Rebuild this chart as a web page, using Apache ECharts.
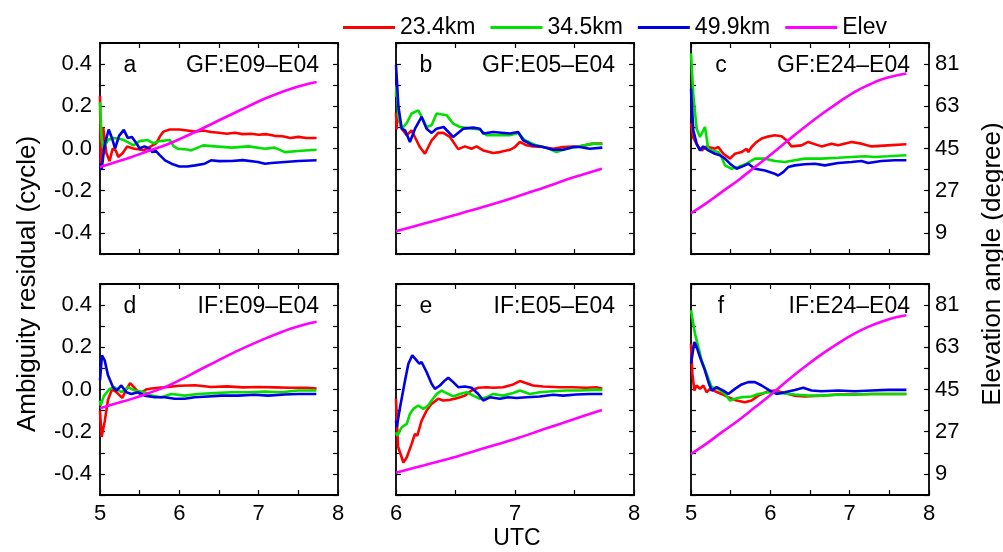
<!DOCTYPE html>
<html>
<head>
<meta charset="utf-8">
<script src="https://cdn.jsdelivr.net/npm/echarts@6/dist/echarts.min.js"></script>
<style>
html,body{margin:0;padding:0;background:#fff;}
#chart{width:1003px;height:552px;}
</style>
</head>
<body>
<div id="chart"></div>
<script>
// ---------------- DATA (time UTC h, residual cycle / elevation deg) ----------------
const seriesNames = ['23.4km', '34.5km', '49.9km', 'Elev'];
const panelLetters = ['a', 'b', 'c', 'd', 'e', 'f'];
const panelTitles = ['GF:E09\u2013E04', 'GF:E05\u2013E04', 'GF:E24\u2013E04', 'IF:E09\u2013E04', 'IF:E05\u2013E04', 'IF:E24\u2013E04'];
const xRanges = [[5, 8], [6, 8], [5, 8], [5, 8], [6, 8], [5, 8]];
const leftTicks = [-0.4, -0.2, 0, 0.2, 0.4];
const rightTicks = [9, 27, 45, 63, 81];

// panel a
const aRed = [[5.0,0.25],[5.01,-0.07],[5.04,0.10],[5.08,-0.02],[5.12,-0.06],[5.16,0.0],[5.2,-0.01],[5.23,-0.04],[5.29,-0.02],[5.34,0.009],[5.42,0.0],[5.5,-0.005],[5.55,-0.008],[5.62,0.005],[5.71,0.025],[5.76,0.06],[5.8,0.08],[5.88,0.09],[6.0,0.09],[6.1,0.085],[6.2,0.08],[6.3,0.085],[6.4,0.078],[6.5,0.075],[6.6,0.07],[6.7,0.075],[6.8,0.068],[6.9,0.07],[7.0,0.065],[7.1,0.068],[7.2,0.06],[7.3,0.058],[7.4,0.05],[7.5,0.055],[7.6,0.05],[7.73,0.05]];
const aGreen = [[5.0,0.22],[5.02,0.05],[5.04,0.0],[5.1,0.04],[5.16,0.05],[5.23,0.047],[5.3,0.04],[5.35,0.03],[5.42,0.015],[5.5,0.035],[5.6,0.04],[5.67,0.025],[5.75,0.035],[5.88,0.04],[5.93,0.01],[5.98,-0.001],[6.1,-0.005],[6.15,-0.009],[6.3,0.015],[6.45,0.01],[6.66,0.004],[6.87,0.01],[7.08,-0.001],[7.2,0.004],[7.33,-0.017],[7.5,-0.012],[7.73,-0.006]];
const aBlue = [[5.0,-0.08],[5.02,-0.10],[5.06,0.02],[5.11,0.09],[5.15,0.05],[5.19,0.0],[5.24,0.06],[5.3,0.088],[5.35,0.05],[5.4,0.055],[5.45,0.03],[5.5,0.0],[5.56,0.01],[5.62,0.0],[5.66,-0.017],[5.7,-0.01],[5.75,-0.03],[5.82,-0.056],[5.9,-0.072],[6.0,-0.085],[6.1,-0.085],[6.2,-0.08],[6.32,-0.072],[6.4,-0.056],[6.5,-0.06],[6.66,-0.059],[6.8,-0.055],[6.99,-0.064],[7.08,-0.072],[7.16,-0.069],[7.33,-0.064],[7.5,-0.059],[7.73,-0.056]];
const aElev = [[5.0,37.1],[5.2,39.2],[5.4,41.4],[5.6,43.8],[5.82,46.4],[6.03,49.4],[6.24,52.7],[6.45,56.2],[6.66,59.6],[6.87,63.0],[7.08,66.3],[7.25,68.6],[7.41,70.5],[7.57,72.1],[7.73,73.4]];

// panel b
const bRed = [[6.0,0.17],[6.006,0.09],[6.01,0.17],[6.048,0.094],[6.09,0.063],[6.131,0.086],[6.2,0.007],[6.243,-0.025],[6.3,0.039],[6.355,0.074],[6.397,0.074],[6.453,0.055],[6.523,-0.003],[6.579,0.010],[6.635,-0.001],[6.677,0.010],[6.733,-0.009],[6.817,-0.021],[6.873,-0.017],[6.957,-0.006],[6.999,0.007],[7.041,0.031],[7.096,0.015],[7.152,0.010],[7.236,0.007],[7.32,-0.001],[7.404,0.007],[7.544,0.010],[7.656,0.023],[7.734,0.023]];
const bGreen = [[6.0,0.245],[6.005,0.3],[6.02,0.15],[6.048,0.094],[6.09,0.12],[6.131,0.166],[6.187,0.181],[6.215,0.15],[6.257,0.102],[6.299,0.11],[6.341,0.166],[6.425,0.158],[6.481,0.118],[6.537,0.102],[6.649,0.094],[6.705,0.090],[6.761,0.063],[6.957,0.063],[7.027,0.074],[7.083,0.039],[7.18,0.015],[7.264,0.004],[7.348,-0.017],[7.432,-0.001],[7.544,0.010],[7.656,0.023],[7.734,0.020]];
const bBlue = [[6.0,0.395],[6.01,0.39],[6.02,0.2],[6.048,0.094],[6.076,0.086],[6.117,0.031],[6.16,0.094],[6.215,0.15],[6.257,0.094],[6.3,0.074],[6.34,0.094],[6.4,0.102],[6.48,0.055],[6.565,0.094],[6.65,0.099],[6.705,0.094],[6.733,0.071],[6.817,0.078],[6.957,0.071],[7.027,0.078],[7.069,0.039],[7.152,0.015],[7.236,0.007],[7.32,-0.006],[7.404,-0.006],[7.488,0.007],[7.544,0.007],[7.628,-0.001],[7.734,0.004]];
const bElev = [[6.0,9.7],[6.23,12.9],[6.48,16.4],[6.73,20.0],[7.0,24.2],[7.24,28.3],[7.5,32.8],[7.73,36.4]];

// panel c
const cRed = [[5.0,0.12],[5.03,0.05],[5.092,0.007],[5.134,-0.009],[5.197,0.010],[5.302,-0.001],[5.344,0.007],[5.407,-0.025],[5.491,-0.048],[5.554,-0.025],[5.638,-0.017],[5.701,-0.001],[5.722,-0.017],[5.764,0.007],[5.827,0.031],[5.89,0.047],[5.953,0.055],[6.057,0.063],[6.141,0.058],[6.204,0.039],[6.267,0.010],[6.393,0.015],[6.477,0.031],[6.645,0.010],[6.771,0.023],[6.855,0.015],[7.023,0.031],[7.149,0.023],[7.275,0.010],[7.484,0.015],[7.715,0.020]];
const cGreen = [[5.0,0.451],[5.03,0.25],[5.071,0.094],[5.113,0.055],[5.176,0.102],[5.218,-0.001],[5.26,-0.009],[5.344,-0.017],[5.386,-0.040],[5.428,-0.080],[5.512,-0.096],[5.596,-0.088],[5.701,-0.072],[5.806,-0.048],[5.932,-0.048],[6.057,-0.059],[6.183,-0.064],[6.309,-0.056],[6.435,-0.048],[6.645,-0.048],[6.855,-0.044],[7.023,-0.040],[7.191,-0.037],[7.317,-0.040],[7.484,-0.037],[7.715,-0.032]];
const cBlue = [[5.0,0.284],[5.029,0.086],[5.071,0.023],[5.113,-0.009],[5.155,0.010],[5.218,-0.009],[5.302,-0.025],[5.365,-0.032],[5.428,-0.048],[5.491,-0.072],[5.575,-0.096],[5.68,-0.080],[5.722,-0.072],[5.806,-0.096],[5.932,-0.104],[6.057,-0.120],[6.099,-0.128],[6.162,-0.112],[6.225,-0.088],[6.309,-0.080],[6.435,-0.075],[6.561,-0.072],[6.687,-0.080],[6.855,-0.069],[7.023,-0.064],[7.149,-0.059],[7.233,-0.069],[7.4,-0.059],[7.568,-0.056],[7.715,-0.056]];
const cElev = [[5.0,17.4],[5.19,21.6],[5.386,26.4],[5.6,31.6],[5.806,37.1],[6.02,42.8],[6.225,48.5],[6.43,54.1],[6.645,59.6],[6.86,64.7],[7.065,69.2],[7.24,72.1],[7.4,74.4],[7.56,75.9],[7.715,77.0]];

// panel d
const dRed = [[5.0,-0.10],[5.02,-0.225],[5.06,-0.15],[5.1,-0.05],[5.15,0.0],[5.2,-0.01],[5.28,-0.04],[5.33,0.0],[5.38,0.03],[5.43,0.01],[5.5,-0.02],[5.58,0.0],[5.65,0.005],[5.8,0.01],[6.0,0.018],[6.2,0.02],[6.4,0.012],[6.6,0.015],[6.8,0.01],[7.0,0.012],[7.2,0.01],[7.4,0.008],[7.6,0.008],[7.73,0.005]];
const dGreen = [[5.0,-0.052],[5.008,-0.076],[5.05,-0.03],[5.122,0.003],[5.185,0.011],[5.27,-0.013],[5.353,0.011],[5.437,-0.005],[5.563,-0.013],[5.647,-0.029],[5.773,-0.037],[5.899,-0.021],[6.067,-0.029],[6.235,-0.021],[6.445,-0.017],[6.655,-0.013],[6.866,-0.013],[7.076,-0.010],[7.286,-0.013],[7.496,-0.005],[7.727,-0.005]];
const dBlue = [[5.0,0.043],[5.025,0.162],[5.059,0.138],[5.101,0.067],[5.164,0.011],[5.206,-0.005],[5.269,0.019],[5.332,-0.013],[5.395,-0.021],[5.479,-0.013],[5.563,-0.029],[5.689,-0.037],[5.815,-0.037],[5.941,-0.044],[6.067,-0.044],[6.193,-0.037],[6.361,-0.033],[6.529,-0.029],[6.739,-0.029],[6.95,-0.025],[7.118,-0.029],[7.328,-0.024],[7.496,-0.021],[7.727,-0.021]];
const dElev = [[5.0,37.0],[5.2,39.0],[5.4,41.0],[5.6,43.3],[5.82,46.0],[6.03,49.4],[6.24,53.1],[6.45,56.7],[6.66,60.3],[6.87,63.6],[7.08,66.7],[7.25,69.0],[7.41,71.0],[7.57,72.6],[7.73,73.9]];

// panel e
const eRed = [[6.0,-0.044],[6.017,-0.27],[6.062,-0.346],[6.09,-0.322],[6.131,-0.259],[6.159,-0.211],[6.179,-0.219],[6.215,-0.148],[6.257,-0.1],[6.299,-0.068],[6.355,-0.044],[6.397,-0.052],[6.453,-0.049],[6.495,-0.044],[6.537,-0.037],[6.579,-0.029],[6.635,-0.005],[6.691,0.008],[6.761,0.011],[6.817,0.008],[6.9,0.011],[6.985,0.024],[7.041,0.040],[7.096,0.030],[7.152,0.019],[7.236,0.014],[7.376,0.011],[7.488,0.011],[7.6,0.008],[7.684,0.011],[7.734,0.003]];
const eGreen = [[6.0,-0.203],[6.011,-0.219],[6.048,-0.179],[6.09,-0.163],[6.117,-0.116],[6.145,-0.092],[6.187,-0.076],[6.229,-0.092],[6.271,-0.076],[6.299,-0.052],[6.341,-0.021],[6.383,-0.005],[6.425,-0.017],[6.481,-0.033],[6.537,-0.021],[6.593,-0.013],[6.649,-0.029],[6.705,-0.044],[6.761,-0.037],[6.817,-0.021],[6.9,-0.029],[6.985,-0.017],[7.041,-0.005],[7.124,-0.021],[7.208,-0.013],[7.32,-0.008],[7.432,-0.005],[7.544,-0.005],[7.656,-0.002],[7.734,-0.002]];
const eBlue = [[6.0,-0.148],[6.006,-0.179],[6.034,-0.084],[6.076,0.043],[6.104,0.122],[6.137,0.162],[6.173,0.138],[6.196,0.122],[6.215,0.13],[6.257,0.083],[6.299,0.027],[6.327,0.003],[6.369,0.019],[6.411,0.043],[6.439,0.056],[6.481,0.035],[6.523,0.011],[6.579,0.014],[6.635,0.008],[6.691,-0.021],[6.733,-0.052],[6.789,-0.037],[6.873,-0.044],[6.943,-0.037],[7.013,-0.040],[7.096,-0.037],[7.208,-0.033],[7.32,-0.025],[7.404,-0.029],[7.516,-0.024],[7.628,-0.021],[7.734,-0.021]];
const eElev = [[6.0,9.5],[6.23,12.6],[6.48,16.0],[6.73,19.8],[7.0,23.9],[7.24,28.0],[7.5,32.4],[7.73,36.3]];

// panel f
const fRed = [[5.0,0.217],[5.017,0.075],[5.042,-0.005],[5.071,0.019],[5.113,0.003],[5.155,0.019],[5.197,-0.013],[5.239,0.003],[5.302,-0.008],[5.386,-0.021],[5.47,-0.037],[5.575,-0.052],[5.68,-0.060],[5.764,-0.052],[5.848,-0.029],[5.974,-0.008],[6.057,-0.005],[6.183,-0.017],[6.309,-0.029],[6.435,-0.033],[6.645,-0.029],[6.855,-0.024],[7.065,-0.024],[7.275,-0.021],[7.484,-0.021],[7.715,-0.021]];
const fGreen = [[5.0,0.376],[5.05,0.265],[5.092,0.202],[5.134,0.138],[5.197,0.075],[5.26,0.011],[5.344,0.003],[5.428,-0.021],[5.491,-0.052],[5.554,-0.044],[5.638,-0.037],[5.764,-0.033],[5.848,-0.021],[5.974,-0.013],[6.141,-0.017],[6.309,-0.024],[6.477,-0.029],[6.645,-0.029],[6.855,-0.025],[7.065,-0.024],[7.275,-0.021],[7.484,-0.021],[7.715,-0.021]];
const fBlue = [[5.0,0.122],[5.042,0.225],[5.071,0.202],[5.113,0.154],[5.176,0.09],[5.227,0.027],[5.26,-0.005],[5.323,0.011],[5.407,-0.005],[5.47,-0.021],[5.554,0.003],[5.638,0.024],[5.722,0.035],[5.806,0.035],[5.89,0.019],[5.995,-0.005],[6.078,-0.021],[6.183,-0.013],[6.309,-0.002],[6.414,0.008],[6.52,-0.005],[6.645,-0.008],[6.855,-0.005],[7.065,-0.008],[7.275,-0.005],[7.484,-0.002],[7.715,-0.002]];
const fElev = [[5.0,17.5],[5.19,21.8],[5.386,26.7],[5.6,31.9],[5.806,37.4],[6.02,43.2],[6.225,49.1],[6.43,54.6],[6.645,60.0],[6.86,64.8],[7.065,68.9],[7.24,71.8],[7.4,73.9],[7.56,75.6],[7.715,76.7]];

const panelData = [
  [aRed, aGreen, aBlue, aElev],
  [bRed, bGreen, bBlue, bElev],
  [cRed, cGreen, cBlue, cElev],
  [dRed, dGreen, dBlue, dElev],
  [eRed, eGreen, eBlue, eElev],
  [fRed, fGreen, fBlue, fElev]
];

// ---------------- LAYOUT / STYLE ----------------
const colors = ['#ff0000', '#00e000', '#0000e6', '#ff00ff'];
const FONT = '"Liberation Sans", Arial, sans-serif';
const colLeft = [100, 396, 691];
const rowTop = [43, 284];
const W = 238, H = 211;

const chart = echarts.init(document.getElementById('chart'));
const grid = [], xAxis = [], yAxis = [], series = [], graphic = [];
const axisLineStyle = { color: '#000', width: 1.8 };
const tickStyle = { color: '#000', width: 1.2 };

for (let p = 0; p < 6; p++) {
  const col = p % 3, row = Math.floor(p / 3);
  const left = colLeft[col], top = rowTop[row];
  grid.push({ left: left, top: top, width: W, height: H, show: false });
  const [xmin, xmax] = xRanges[p];
  // bottom x axis
  xAxis.push({
    type: 'value', gridIndex: p, position: 'bottom', min: xmin, max: xmax, interval: 0.5,
    axisLine: { show: true, onZero: false, lineStyle: axisLineStyle },
    axisTick: { show: true, inside: true, length: 5, lineStyle: tickStyle },
    splitLine: { show: false },
    axisLabel: {
      show: row === 1, margin: 8, color: '#000', fontSize: 22, fontFamily: FONT,
      showMinLabel: true, showMaxLabel: true,
      formatter: v => (Math.abs(v - Math.round(v)) < 1e-6 ? String(Math.round(v)) : '')
    }
  });
  // top x axis (ticks only)
  xAxis.push({
    type: 'value', gridIndex: p, position: 'top', min: xmin, max: xmax, interval: 0.5,
    axisLine: { show: true, onZero: false, lineStyle: axisLineStyle },
    axisTick: { show: true, inside: true, length: 5, lineStyle: tickStyle },
    splitLine: { show: false }, axisLabel: { show: false }
  });
  // left y axis (residual)
  yAxis.push({
    type: 'value', gridIndex: p, position: 'left', min: -0.5, max: 0.5, interval: 0.1,
    axisLine: { show: true, onZero: false, lineStyle: axisLineStyle },
    axisTick: { show: true, inside: true, length: 5, lineStyle: tickStyle },
    splitLine: { show: false },
    axisLabel: {
      show: col === 0, margin: 8, color: '#000', fontSize: 22, fontFamily: FONT,
      formatter: v => {
        const r = Math.round(v * 10) / 10;
        return leftTicks.some(t => Math.abs(t - r) < 1e-6) ? (r === 0 ? '0.0' : r.toFixed(1)) : '';
      }
    }
  });
  // right y axis (elevation)
  yAxis.push({
    type: 'value', gridIndex: p, position: 'right', min: 0, max: 90, interval: 9,
    axisLine: { show: true, onZero: false, lineStyle: axisLineStyle },
    axisTick: { show: true, inside: true, length: 5, lineStyle: tickStyle },
    splitLine: { show: false },
    axisLabel: {
      show: col === 2, margin: 6, color: '#000', fontSize: 22, fontFamily: FONT,
      formatter: v => (rightTicks.indexOf(Math.round(v)) >= 0 ? String(Math.round(v)) : '')
    }
  });
  for (let s = 0; s < 4; s++) {
    series.push({
      name: seriesNames[s], type: 'line',
      xAxisIndex: 2 * p, yAxisIndex: s === 3 ? 2 * p + 1 : 2 * p,
      data: panelData[p][s], showSymbol: false, symbol: 'none',
      smooth: s === 3 ? 0.4 : false,
      clip: true, silent: true, z: s === 3 ? 5 : 3 + (s === 0 ? 0 : s === 1 ? 0.5 : 0.8),
      itemStyle: { color: colors[s] },
      lineStyle: { color: colors[s], width: 2.6 }
    });
  }
  // panel texts
  graphic.push({
    type: 'text', left: null, x: left + 30, y: top + 23,
    style: { text: panelLetters[p], font: '23px ' + FONT, fill: '#000', align: 'center', verticalAlign: 'middle' }
  });
  graphic.push({
    type: 'text', x: left + W - 19, y: top + 23,
    style: { text: panelTitles[p], font: '23px ' + FONT, fill: '#000', align: 'right', verticalAlign: 'middle' }
  });
}

// axis titles
graphic.push({
  type: 'text', x: 28, y: 284, rotation: Math.PI / 2,
  style: { text: 'Ambiguity residual (cycle)', font: '26px ' + FONT, fill: '#000', align: 'center', verticalAlign: 'middle' }
});
graphic.push({
  type: 'text', x: 993, y: 264, rotation: Math.PI / 2,
  style: { text: 'Elevation angle (degree)', font: '26px ' + FONT, fill: '#000', align: 'center', verticalAlign: 'middle' }
});
graphic.push({
  type: 'text', x: 517, y: 539,
  style: { text: 'UTC', font: '23px ' + FONT, fill: '#000', align: 'center', verticalAlign: 'middle' }
});

chart.setOption({
  animation: false,
  backgroundColor: '#fff',
  textStyle: { fontFamily: FONT },
  legend: {
    data: seriesNames, left: 338, top: 11,
    icon: 'rect', itemWidth: 52, itemHeight: 3, itemGap: 15,
    textStyle: { fontSize: 23, color: '#000', fontFamily: FONT },
    selectedMode: false
  },
  grid: grid, xAxis: xAxis, yAxis: yAxis, series: series, graphic: graphic
});
</script>
</body>
</html>
